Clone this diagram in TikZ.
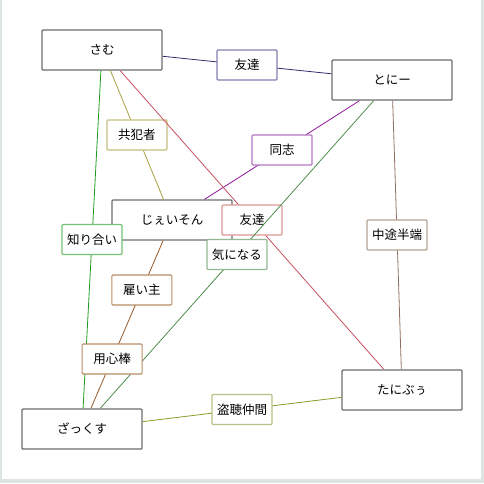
\documentclass[tikz,border=0pt]{standalone}
\usepackage{fontspec}
\setmainfont{Noto Sans CJK JP}
\usepackage{xcolor}
\usepackage{tikz}
\usetikzlibrary{positioning}
\definecolor{framegray}{HTML}{DDE4E1}
\definecolor{persongray}{HTML}{6E6E6E}
\definecolor{navyline}{HTML}{2E2E6E}
\definecolor{navybox}{HTML}{8282B0}
\definecolor{oliveline}{HTML}{A8A040}
\definecolor{olivebox}{HTML}{C4C080}
\definecolor{purpleline}{HTML}{8E1A9A}
\definecolor{purplebox}{HTML}{B478C4}
\definecolor{redline}{HTML}{C85060}
\definecolor{redbox}{HTML}{DC9898}
\definecolor{greenline}{HTML}{229A22}
\definecolor{greenbox}{HTML}{74C074}
\definecolor{sageline}{HTML}{4E904E}
\definecolor{sagebox}{HTML}{94B894}
\definecolor{taupeline}{HTML}{8E7060}
\definecolor{taupebox}{HTML}{B4A494}
\definecolor{brownline}{HTML}{985A28}
\definecolor{brownbox}{HTML}{B88C64}
\definecolor{mossline}{HTML}{8C9A28}
\definecolor{mossbox}{HTML}{B4C484}

\begin{document}
\begin{tikzpicture}[
x=1pt,
y=-1pt,
every node/.style={font=\fontsize{12.5}{15}\selectfont},
person/.style={rectangle,rounded corners=1pt,draw=persongray,line width=1.4pt,fill=white,text=black,minimum width=120pt,minimum height=40pt,inner sep=0pt},
tie/.style={rectangle,rounded corners=1pt,line width=1.1pt,fill=white,text=black,minimum width=60pt,minimum height=30pt,inner sep=0pt},
link/.style={line width=0.8pt}
]
\useasboundingbox (0,0) rectangle (484,483);
\fill[framegray] (0,0) rectangle (484,483);
\fill[white] (2.3,0) rectangle (480.5,479.3);

\node[person] (sam) at (102,50) {さむ};
\node[person] (tony) at (392,80) {とにー};
\node[person] (jason) at (172,220) {じぇいそん};
\node[person] (zack) at (82,429) {ざっくす};
\node[person] (tanipu) at (402,390) {たにぶぅ};

\draw[link,navyline] (sam) -- node[tie,draw=navybox]{友達} (tony);
\draw[link,oliveline] (sam) -- node[tie,draw=olivebox]{共犯者} (jason);
\draw[link,purpleline] (tony) -- node[tie,draw=purplebox]{同志} (jason);
\draw[link,greenline] (sam) -- node[tie,draw=greenbox]{知り合い} (zack);
\draw[link,redline] (sam) -- node[tie,draw=redbox]{友達} (tanipu);
\draw[link,sageline] (tony) -- node[tie,draw=sagebox]{気になる} (zack);
\draw[link,taupeline] (tony) -- node[tie,draw=taupebox]{中途半端} (tanipu);
\draw[link,brownline] (jason) -- node[tie,draw=brownbox,pos=0.294]{雇い主} node[tie,draw=brownbox,pos=0.706]{用心棒} (zack);
\draw[link,mossline] (zack) -- node[tie,draw=mossbox]{盗聴仲間} (tanipu);
\end{tikzpicture}
\end{document}
